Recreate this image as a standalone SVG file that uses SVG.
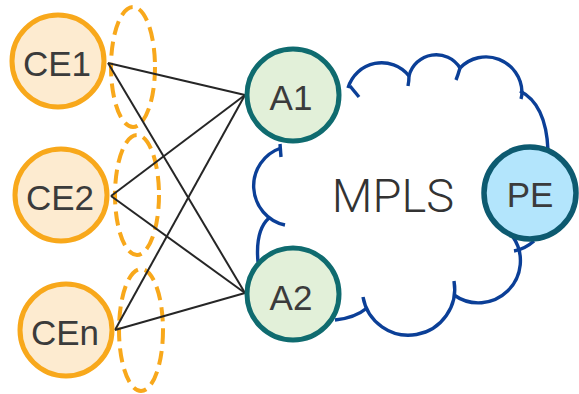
<svg xmlns="http://www.w3.org/2000/svg" width="579" height="394" viewBox="0 0 579 394">
  <style>
    .cloud { fill: none; stroke: #0b3f97; stroke-width: 3.4; stroke-linecap: butt; }
    .link { stroke: #262626; stroke-width: 2; fill: none; }
    .group { fill: none; stroke: #f8a81b; stroke-width: 4; stroke-dasharray: 14 7; }
    .ce { fill: #fdebd0; stroke: #f8a81b; stroke-width: 5; }
    .agg { fill: #e2f0d9; stroke: #0f6b6f; stroke-width: 5; }
    .pe { fill: #b3e5fc; stroke: #0d5a70; stroke-width: 5.5; }
    .label { font-family: "Liberation Sans", Arial, sans-serif; font-size: 35px; fill: #3b3b3b; text-anchor: middle; }
    .cloud-label { font-family: Roboto, "Liberation Sans", sans-serif; font-weight: 300; font-size: 47px; fill: #333333; text-anchor: middle; }
  </style>
  <rect width="579" height="394" fill="#ffffff"/>

  <!-- MPLS cloud outline: bumps plus the short inner tails at each junction -->
  <g id="mpls-cloud">
    <path class="cloud" d="M348 88 A35 35 0 0 1 409 76"/>
    <path class="cloud" d="M409 76 Q409 81 408 86"/>
    <path class="cloud" d="M409 76 A28 28 0 0 1 460 68"/>
    <path class="cloud" d="M460 68 Q458 75 456 80"/>
    <path class="cloud" d="M460 68 A36 36 0 0 1 522 92"/>
    <path class="cloud" d="M522 92 Q522 96 521 99"/>
    <path class="cloud" d="M520 91 Q546 104 548 150"/>
    <path class="cloud" d="M350 86 L359 97"/>
    <path class="cloud" d="M513 237 A42 42 0 0 1 454 295"/>
    <path class="cloud" d="M514 251 Q525 249 534 241"/>
    <path class="cloud" d="M454 281 A46 46 0 0 1 363 297"/>
    <path class="cloud" d="M367 308 Q355 318 335 320"/>
    <path class="cloud" d="M258 262 C256 240 260 226 269 218"/>
    <path class="cloud" d="M285 225 A40 40 0 0 1 281 148"/>
    <path class="cloud" d="M281 157 L280 144"/>
    <text class="cloud-label" x="393" y="212">MPLS</text>
  </g>

  <!-- dual-homing groups -->
  <g id="groups">
    <ellipse class="group" cx="133" cy="67" rx="22" ry="60"/>
    <ellipse class="group" cx="137" cy="195" rx="22" ry="60"/>
    <ellipse class="group" cx="141" cy="330" rx="22" ry="61"/>
  </g>

  <!-- access links -->
  <g id="connectors">
    <line class="link" x1="108" y1="63" x2="245" y2="95"/>
    <line class="link" x1="108" y1="63" x2="245" y2="293"/>
    <line class="link" x1="111" y1="196" x2="245" y2="95"/>
    <line class="link" x1="111" y1="196" x2="245" y2="293"/>
    <line class="link" x1="115" y1="330" x2="245" y2="95"/>
    <line class="link" x1="115" y1="330" x2="245" y2="293"/>
  </g>

  <g id="CE1">
    <circle class="ce" cx="58" cy="61" r="46"/>
    <text class="label" x="57" y="76">CE1</text>
  </g>
  <g id="CE2">
    <circle class="ce" cx="61" cy="195" r="46"/>
    <text class="label" x="60" y="210">CE2</text>
  </g>
  <g id="CEn">
    <circle class="ce" cx="66" cy="330" r="46"/>
    <text class="label" x="65" y="345">CEn</text>
  </g>
  <g id="A1">
    <circle class="agg" cx="293" cy="95" r="46"/>
    <text class="label" x="291" y="110">A1</text>
  </g>
  <g id="A2">
    <circle class="agg" cx="293" cy="294" r="46"/>
    <text class="label" x="291" y="310">A2</text>
  </g>
  <g id="PE">
    <circle class="pe" cx="530" cy="193" r="46"/>
    <text class="label" x="530" y="207">PE</text>
  </g>
</svg>
